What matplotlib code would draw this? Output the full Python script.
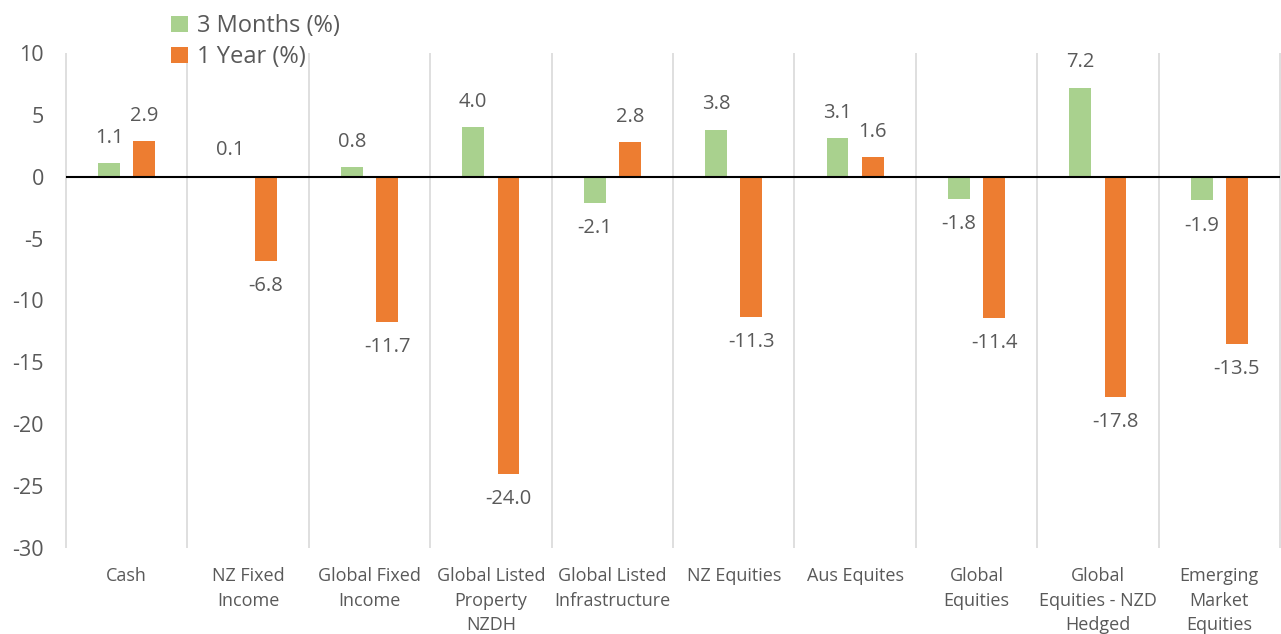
import matplotlib.pyplot as plt
import numpy as np

categories = [
    "Cash", "NZ Fixed\nIncome", "Global Fixed\nIncome", "Global Listed\nProperty\nNZDH",
    "Global Listed\nInfrastructure", "NZ Equities", "Aus Equites", "Global\nEquities",
    "Global\nEquities - NZD\nHedged", "Emerging\nMarket\nEquities",
]
three_months = [1.1, 0.1, 0.8, 4.0, -2.1, 3.8, 3.1, -1.8, 7.2, -1.9]
one_year = [2.9, -6.8, -11.7, -24.0, 2.8, -11.3, 1.6, -11.4, -17.8, -13.5]
series_names = ["3 Months (%)", "1 Year (%)"]
yticks = [-30, -25, -20, -15, -10, -5, 0, 5, 10]

GREEN = "#A9D18E"
ORANGE = "#ED7D31"
TEXT = "#595959"

plt.rcParams["font.family"] = ["Open Sans", "DejaVu Sans"]

fig = plt.figure(figsize=(12.81, 6.34), dpi=100)
ax = fig.add_axes([66 / 1281, 1 - 548 / 634, 1214 / 1281, 495 / 634])

x = np.arange(len(categories))
width = 0.18
offset = 0.145
ax.bar(x - offset, three_months, width, color=GREEN, label=series_names[0], zorder=2)
ax.bar(x + offset, one_year, width, color=ORANGE, label=series_names[1], zorder=2)

for xs, vals in ((x - offset, three_months), (x + offset, one_year)):
    for xi, v in zip(xs, vals):
        if v >= 0:
            ax.annotate(f"{v:.1f}", (xi, v), xytext=(0, 11), textcoords="offset points",
                        ha="center", va="bottom", fontsize=14.5, color=TEXT)
        else:
            ax.annotate(f"{v:.1f}", (xi, v), xytext=(0, -11), textcoords="offset points",
                        ha="center", va="top", fontsize=14.5, color=TEXT)

ax.vlines(np.arange(len(categories) + 1) - 0.5, -30, 10, color="#D9D9D9",
          linewidth=1.2, zorder=1, clip_on=False)
ax.axhline(0, color="black", linewidth=1.5, zorder=3)

ax.set_xlim(-0.5, len(categories) - 0.5)
ax.set_ylim(-30, 10)
ax.set_yticks(yticks)
ax.set_yticklabels([str(t) for t in yticks], fontsize=15.5, color=TEXT)
ax.set_xticks(x)
ax.set_xticklabels(categories, fontsize=13, color=TEXT, linespacing=1.45)
ax.tick_params(axis="both", length=0)
ax.tick_params(axis="y", pad=16)
ax.tick_params(axis="x", pad=14)
for s in ax.spines.values():
    s.set_visible(False)

fig.legend(loc="upper left", bbox_to_anchor=(150 / 1281, 1 + 7 / 634), frameon=False,
           fontsize=17, labelcolor=TEXT, handlelength=0.7, handleheight=0.7,
           handletextpad=0.4, labelspacing=0.3)

fig.savefig("out.png", dpi=100)
